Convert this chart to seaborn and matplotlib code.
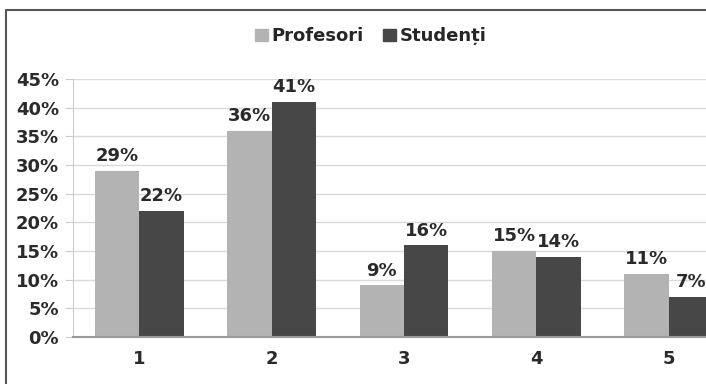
import pandas as pd
import matplotlib.pyplot as plt
import seaborn as sns
from matplotlib.lines import Line2D

categories = ['1', '2', '3', '4', '5']
profesori = [29, 36, 9, 15, 11]
studenti = [22, 41, 16, 14, 7]
series_names = ['Profesori', 'Studenți']

df = pd.DataFrame({
    'Categorie': categories * 2,
    'Valoare': profesori + studenti,
    'Grup': [series_names[0]] * 5 + [series_names[1]] * 5,
})

sns.set_style('white')
plt.rcParams['font.family'] = ['DejaVu Sans']
plt.rcParams['font.weight'] = 'bold'

fig = plt.figure(figsize=(7.06, 3.84), dpi=100)
ax = fig.add_axes([73 / 706, 47 / 384, 662 / 706, 258 / 384])

sns.barplot(data=df, x='Categorie', y='Valoare', hue='Grup',
            palette=['#b3b3b3', '#474747'], width=0.67, saturation=1,
            linewidth=0, ax=ax, legend=False)

for cont in ax.containers:
    ax.bar_label(cont, fmt='%d%%', padding=4, fontsize=13,
                 fontweight='bold', color='#2a2a2a')

ax.set_ylim(0, 45)
ax.set_xlim(-0.5, 4.5)
ax.set_yticks(range(0, 46, 5))
ax.set_yticklabels([f'{v}%' for v in range(0, 46, 5)])
ax.set_xlabel('')
ax.set_ylabel('')
ax.yaxis.grid(True, color='#d9d9d9', linewidth=1)
ax.set_axisbelow(True)

ax.set_xticks([i - 0.5 for i in range(6)], minor=True)
ax.tick_params(axis='x', which='major', length=0, pad=9, labelsize=13,
               labelcolor='#2a2a2a')
ax.tick_params(axis='x', which='minor', length=5, color='#bfbfbf', width=1)
ax.tick_params(axis='y', length=6, color='#cccccc', pad=4, labelsize=13,
               labelcolor='#2a2a2a', left=True)

for s in ['top', 'right']:
    ax.spines[s].set_visible(False)
ax.spines['left'].set_color('#cccccc')
ax.spines['bottom'].set_color('#9a9a9a')
ax.spines['bottom'].set_linewidth(1.5)

handles = [plt.Rectangle((0, 0), 1, 1, color=c) for c in ['#b3b3b3', '#474747']]
fig.legend(handles, series_names, loc='center', bbox_to_anchor=(0.525, 0.905),
           ncol=2, frameon=False, handlelength=0.7, handleheight=0.7,
           handletextpad=0.2, columnspacing=1.1,
           prop={'size': 13, 'weight': 'bold'})

# outer chart frame (cropped on the right and bottom)
fig.add_artist(Line2D([6 / 706, 6 / 706, 1], [0, 1 - 10 / 384, 1 - 10 / 384],
                      color='#555555', linewidth=1.5))

fig.savefig('out.png', dpi=100)
